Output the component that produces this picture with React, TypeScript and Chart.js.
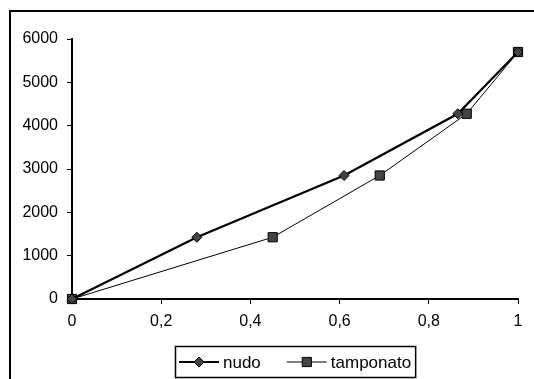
import React, { useEffect, useRef } from "react";
import { Chart, registerables } from "chart.js";

Chart.register(...registerables);

// ---- data ----
const seriesLabels = ["nudo", "tamponato"];
const nudoX = [0, 0.28, 0.61, 0.865, 1];
const nudoY = [0, 1425, 2850, 4275, 5700];
const tamponatoX = [0, 0.45, 0.69, 0.885, 1];
const tamponatoY = [0, 1425, 2850, 4275, 5700];
const xTickStep = 0.2;
const xMin = 0;
const xMax = 1;
const yTickStep = 1000;
const yMin = 0;
const yMax = 6000;

const FONT = '"Liberation Sans", Arial, sans-serif';

function drawMarker(ctx: CanvasRenderingContext2D, style: string, x: number, y: number, r: number) {
  ctx.beginPath();
  if (style === "rectRot") {
    ctx.moveTo(x, y - r);
    ctx.lineTo(x + r, y);
    ctx.lineTo(x, y + r);
    ctx.lineTo(x - r, y);
    ctx.closePath();
  } else {
    const s = r * Math.SQRT1_2;
    ctx.rect(x - s, y - s, 2 * s, 2 * s);
  }
  ctx.fill();
  ctx.stroke();
}

const lineLegend = {
  id: "lineLegend",
  afterDraw(chart: any) {
    const ctx: CanvasRenderingContext2D = chart.ctx;
    const ca = chart.chartArea;
    ctx.save();
    ctx.font = `17px ${FONT}`;
    const lineLen = 40;
    const gapText = 4;
    const gapItem = 26;
    const pad = 4;
    const items = chart.data.datasets.map((ds: any) => ({ ds, w: ctx.measureText(ds.label).width }));
    const total =
      pad * 2 +
      items.reduce((s: number, it: any) => s + lineLen + gapText + it.w, 0) +
      gapItem * (items.length - 1);
    const h = 31;
    const left = Math.round((ca.left + ca.right) / 2 - total / 2);
    const top = Math.round(ca.bottom + 47);
    ctx.fillStyle = "#fff";
    ctx.fillRect(left, top, total, h);
    ctx.strokeStyle = "#000";
    ctx.lineWidth = 1.5;
    ctx.strokeRect(left + 0.5, top + 0.5, total, h);
    let x = left + pad;
    const cy = top + h / 2 + 0.5;
    items.forEach(({ ds, w }: any) => {
      ctx.beginPath();
      ctx.lineWidth = ds.borderWidth;
      ctx.strokeStyle = ds.borderColor;
      ctx.moveTo(x, cy);
      ctx.lineTo(x + lineLen, cy);
      ctx.stroke();
      ctx.fillStyle = ds.pointBackgroundColor;
      ctx.strokeStyle = ds.pointBorderColor;
      ctx.lineWidth = 1;
      drawMarker(ctx, ds.pointStyle, x + lineLen / 2, cy, ds.pointRadius);
      ctx.fillStyle = "#000";
      ctx.textBaseline = "middle";
      ctx.textAlign = "left";
      ctx.fillText(ds.label, x + lineLen + gapText, cy + 1);
      x += lineLen + gapText + w + gapItem;
    });
    ctx.restore();
  },
};

export default function App() {
  const ref = useRef<HTMLCanvasElement | null>(null);

  useEffect(() => {
    if (!ref.current) return;
    const chart = new Chart(ref.current, {
      type: "scatter",
      data: {
        datasets: [
          {
            label: seriesLabels[0],
            data: nudoX.map((x, i) => ({ x, y: nudoY[i] })),
            showLine: true,
            borderColor: "#000",
            borderWidth: 2.2,
            pointStyle: "rectRot",
            pointRadius: 5,
            pointBackgroundColor: "#444",
            pointBorderColor: "#000",
            pointBorderWidth: 1,
            clip: false,
          } as any,
          {
            label: seriesLabels[1],
            data: tamponatoX.map((x, i) => ({ x, y: tamponatoY[i] })),
            showLine: true,
            borderColor: "#000",
            borderWidth: 1,
            pointStyle: "rect",
            pointRadius: 6.5,
            pointBackgroundColor: "#444",
            pointBorderColor: "#000",
            pointBorderWidth: 1,
            clip: false,
          } as any,
        ],
      },
      options: {
        animation: false,
        responsive: false,
        layout: { padding: { top: 39, right: 16, left: 0, bottom: 0 } },
        plugins: { legend: { display: false }, tooltip: { enabled: false } },
        scales: {
          x: {
            type: "linear",
            min: xMin,
            max: xMax,
            afterFit: (s: any) => {
              s.height = 80;
            },
            ticks: {
              stepSize: xTickStep,
              color: "#000",
              font: { family: FONT, size: 16 },
              padding: 8,
              maxRotation: 0,
              callback: (v: any) => String(Math.round(Number(v) * 10) / 10).replace(".", ","),
            },
            grid: { drawOnChartArea: false, drawTicks: true, tickLength: 5, color: "#000", lineWidth: 1 },
            border: { color: "#000", width: 2 },
          },
          y: {
            type: "linear",
            min: yMin,
            max: yMax,
            afterFit: (s: any) => {
              s.width = 72;
            },
            ticks: {
              stepSize: yTickStep,
              color: "#000",
              font: { family: FONT, size: 16 },
              padding: 9,
              callback: (v: any) => String(Math.round(Number(v))),
            },
            grid: { drawOnChartArea: false, drawTicks: true, tickLength: 5, color: "#000", lineWidth: 1 },
            border: { color: "#000", width: 2 },
          },
        },
      },
      plugins: [lineLegend],
    });
    return () => chart.destroy();
  }, []);

  return (
    <div style={{ position: "fixed", left: 0, top: 0, width: 534, height: 379, background: "#fff" }}>
      <div
        style={{
          position: "absolute",
          left: 9,
          top: 10,
          width: 525,
          height: 369,
          borderLeft: "2px solid #000",
          borderTop: "2px solid #000",
          boxSizing: "border-box",
        }}
      />
      <canvas ref={ref} width={534} height={379} style={{ position: "absolute", left: 0, top: 0 }} />
    </div>
  );
}
